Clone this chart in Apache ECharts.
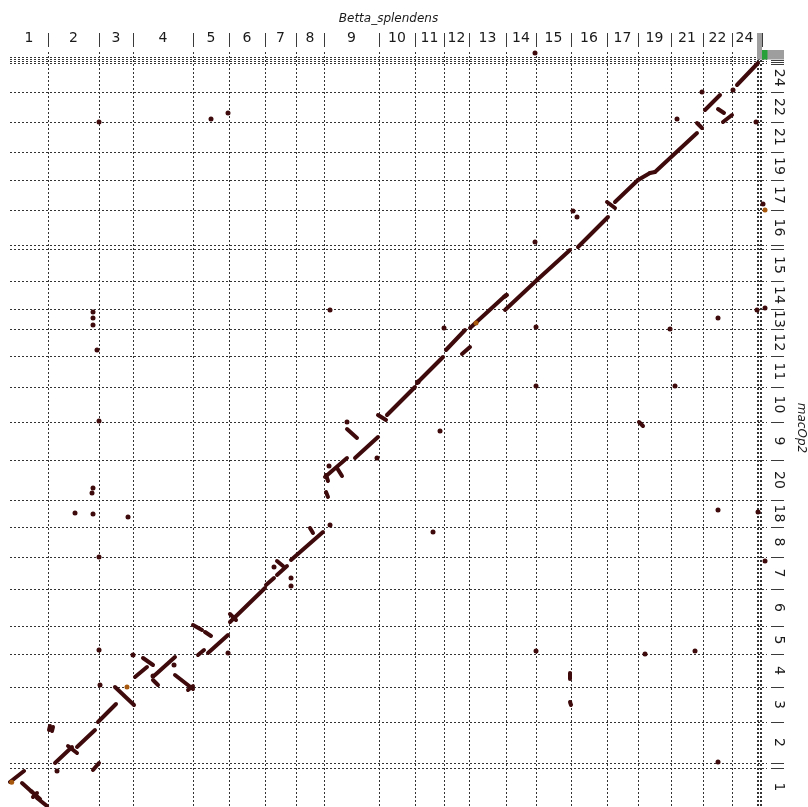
<!DOCTYPE html>
<html>
<head>
<meta charset="utf-8">
<script src="https://cdn.jsdelivr.net/npm/echarts@6/dist/echarts.min.js"></script>
<style>
  html, body { margin: 0; padding: 0; background: #ffffff; }
  #chart { width: 808px; height: 807px; }
</style>
</head>
<body>
<div id="chart"></div>
<script>
// Query assembly (Betta_splendens): chromosome order along x, sizes in Mb.
// Trailing unnamed entries are small unplaced contigs.
const xChromNames = ['1','2','3','4','5','6','7','8','9','10','11','12','13','14','15','16','17','19','21','22','24','','','',''];
const xChromSizes = [22.8,30.6,20.4,36,21.6,21.6,18.6,16.8,33,21.6,17.4,15,22.2,18,21,21.6,18.6,19.8,19.2,17.4,15,0.9,0.9,0.9,3.3];

// Target assembly (macOp2): chromosome order along y (bottom to top), sizes in Mb.
const yChromNames = ['1','','2','3','4','5','6','7','8','18','20','9','10','11','12','13','14','15','','16','17','19','21','22','24','','','',''];
const yChromSizes = [22.8,3,24.6,21,19.8,16.8,22.2,19.2,18,16.2,24,22.8,21,18.6,16.2,12,16.8,19.2,2.4,21,18,16.8,18,18,17.1,1.2,1.2,1.2,4.5];

// Alignment blocks on the concatenated genomes: [xStart, yStart, xEnd, yEnd] in Mb.
const alignments = [
  [0,14.4,8.4,21], [7.2,13.8,13.2,8.4], [12.6,9,18,4.2], [16.2,4.8,22.2,0], [13.8,5.4,16.2,7.8],
  [27,25.8,37.2,35.4], [34.8,36,40.2,31.8], [40.2,35.4,51,45.6], [23.4,45.6,24,48], [25.2,45,25.8,47.4],
  [49.8,21.6,53.4,25.8],
  [52.8,50.4,63.6,61.2], [63,71.4,74.4,60.6],
  [79.8,88.8,85.8,84.6], [75,77.4,82.2,83.4], [85.8,75.6,88.8,72.6], [87,78.6,99,89.4],
  [99,78.6,109.8,70.2], [106.8,69.6,109.8,72],
  [109.8,108.6,115.2,105.6], [117,104.4,120.6,102], [112.8,90.6,116.4,93.6], [118.8,91.8,130.8,102.6],
  [132,110.4,153,130.8], [132,115.2,135.6,111.6],
  [153.6,132.6,158.4,136.8], [160.2,147,163.8,144], [160.2,138.6,166.2,144],
  [168.6,147.6,187.8,164.4], [180,166.8,181.8,163.8],
  [189.6,188.4,190.8,185.4], [189.6,198.6,190.8,195], [189,197.4,202.2,208.8], [196.2,202.8,199.2,198],
  [207,208.8,220.8,221.4], [202.2,226.2,208.2,220.8],
  [220.8,234.6,225.6,231.6], [226.2,234.6,243,251.4], [244.2,253.8,259.8,269.4],
  [261.6,273.6,273,285.6], [271.2,271.2,276,275.4],
  [276,286.8,297.6,306.6], [296.4,305.4,298.2,306.6],
  [297,297.6,316.2,315.6], [316.2,315.6,336,333.6],
  [340.8,335.4,358.8,353.4],
  [358.2,362.4,363,358.8], [363,362.4,376.8,375.6],
  [376.8,375.6,384,379.8], [384,379.8,387,380.4], [387,380.4,412.2,403.8],
  [412.2,409.8,415.2,406.8],
  [417,417.6,426,426.6], [424.8,418.2,428.4,415.8], [427.8,410.4,433.2,414.6],
  [436.2,432.6,448.8,445.8],
  [377.4,230.4,379.8,228],
  [336,79.8,336,76.2], [336,62.4,336.6,60.6]
];

// Short isolated hits: [x, y] in Mb.
const hits = [
  [28.2,21], [53.4,93.6], [54,72.6], [73.8,90.6], [85.8,78], [98.4,84.6], [130.8,91.8],
  [158.4,143.4], [168.6,136.8], [168.6,132], [192,168.6], [253.8,164.4],
  [191.4,204], [220.2,208.8], [202.2,230.4], [244.8,254.4], [258,225], [260.4,286.8],
  [315,338.4], [315.6,287.4], [315.6,252], [315.6,93], [315,451.8],
  [337.8,357], [340.2,353.4], [400.2,412.2], [415.2,428.4], [433.8,429.6], [447.6,410.4],
  [53.4,410.4], [120.6,412.2], [130.8,415.8],
  [49.8,296.4], [49.8,292.8], [49.8,288.6], [52.2,273.6], [53.4,231],
  [49.8,190.8], [49.2,187.8], [39,175.8], [49.8,175.2], [70.8,173.4], [53.4,149.4],
  [192,297.6], [381,91.2], [396,286.2], [399,252], [411,93],
  [424.8,292.8], [424.8,177.6], [424.8,26.4],
  [448.2,297.6], [453,298.8], [448.8,176.4], [453,147], [451.8,361.2]
];

// Low-identity hits.
const weakHits = [[1,14.2], [70.2,71.4], [279.6,289.8], [453,357.6]];

function layout(names, sizes) {
  const bounds = [0];
  sizes.forEach(s => bounds.push(+(bounds[bounds.length - 1] + s).toFixed(3)));
  const total = bounds[bounds.length - 1];
  const centers = [];
  const labelOf = {};
  names.forEach((n, i) => {
    if (!n) return;
    const c = (bounds[i] + bounds[i + 1]) / 2;
    centers.push(c);
    labelOf[c.toFixed(3)] = n;
  });
  return { bounds, total, inner: bounds.slice(1, -1), centers, labelOf };
}

const X = layout(xChromNames, xChromSizes);
const Y = layout(yChromNames, yChromSizes);

const FONT = 'DejaVu Sans';
const INK = '#3f0a0b';
const GRID_TOP = 50;

const gridLines = [];
X.inner.forEach(b => gridLines.push({ coords: [[b, 0], [b, Y.total]] }));
Y.inner.forEach(b => gridLines.push({ coords: [[0, b], [X.total, b]] }));

const chart = echarts.init(document.getElementById('chart'), null, { renderer: 'canvas' });

chart.setOption({
  animation: false,
  backgroundColor: '#ffffff',
  grid: { left: 10, top: GRID_TOP, right: 41, bottom: 1, containLabel: false, outerBoundsMode: 'none' },
  xAxis: {
    type: 'value', position: 'top', min: 0, max: X.total,
    axisLine: { show: false }, axisTick: { show: false }, splitLine: { show: false },
    axisLabel: {
      customValues: X.centers,
      formatter: v => X.labelOf[v.toFixed(3)] || '',
      margin: 5, fontSize: 14, color: '#1a1a1a', fontFamily: FONT
    },
    name: 'Betta_splendens', nameLocation: 'middle', nameGap: 25,
    nameTextStyle: { fontStyle: 'italic', fontSize: 12, color: '#1a1a1a', fontFamily: FONT }
  },
  yAxis: {
    type: 'value', position: 'right', min: 0, max: Y.total,
    axisLine: { show: false }, axisTick: { show: false }, splitLine: { show: false },
    axisLabel: {
      customValues: Y.centers,
      formatter: v => Y.labelOf[v.toFixed(3)] || '',
      rotate: -90, margin: 5, fontSize: 14, color: '#1a1a1a', fontFamily: FONT
    },
    name: 'macOp2', nameLocation: 'middle', nameRotate: -90, nameGap: 28,
    nameTextStyle: { fontStyle: 'italic', fontSize: 12, color: '#1a1a1a', fontFamily: FONT }
  },
  series: [
    {
      name: 'boundaries', type: 'lines', coordinateSystem: 'cartesian2d',
      silent: true, z: 1,
      lineStyle: { color: '#333333', width: 1, type: [2, 2], opacity: 1 },
      data: gridLines
    },
    {
      name: 'alignments', type: 'lines', coordinateSystem: 'cartesian2d',
      silent: true, z: 3,
      lineStyle: { color: INK, width: 4, cap: 'round', opacity: 1 },
      data: alignments.map(a => ({ coords: [[a[0], a[1]], [a[2], a[3]]] }))
    },
    {
      name: 'hits', type: 'scatter', silent: true, z: 4,
      symbol: 'circle', symbolSize: 5, itemStyle: { color: INK, opacity: 1 },
      data: hits
    },
    {
      name: 'weak hits', type: 'scatter', silent: true, z: 4,
      symbol: 'circle', symbolSize: 5, itemStyle: { color: '#a8580c', opacity: 1 },
      data: weakHits
    }
  ]
});

// Chromosome separators beside the labels and the unplaced-contig blocks,
// placed from the axis scales.
const px = v => chart.convertToPixel({ xAxisIndex: 0 }, v);
const py = v => chart.convertToPixel({ yAxisIndex: 0 }, v);
const yTop = py(Y.total);
const xRight = px(X.total);
const separators = [];
X.inner.forEach(b => {
  const x = Math.round(px(b)) + 0.5;
  separators.push({ type: 'line', silent: true, z: 9,
    shape: { x1: x, y1: yTop - 17, x2: x, y2: yTop - 3 },
    style: { stroke: '#3a3a3a', lineWidth: 1 } });
});
Y.inner.forEach(b => {
  const y = Math.round(py(b)) + 0.5;
  separators.push({ type: 'line', silent: true, z: 9,
    shape: { x1: xRight + 4, y1: y, x2: xRight + 17, y2: y },
    style: { stroke: '#3a3a3a', lineWidth: 1 } });
});

const xUnplacedStart = px(X.bounds[21]);
const xUnplacedLast = px(X.bounds[24]);
const yBandBottom = py(Y.bounds[27]);

chart.setOption({
  graphic: separators.concat([
    { type: 'rect', silent: true, z: 10,
      shape: { x: xUnplacedStart, y: yTop - 17, width: xUnplacedLast - xUnplacedStart + 0.5, height: yBandBottom - yTop + 17 },
      style: { fill: '#9e9e9e' } },
    { type: 'rect', silent: true, z: 10,
      shape: { x: xUnplacedLast, y: yTop, width: xRight + 17 - xUnplacedLast, height: yBandBottom - yTop },
      style: { fill: '#9e9e9e' } },
    { type: 'rect', silent: true, z: 11,
      shape: { x: xUnplacedLast + 0.5, y: yTop, width: xRight - xUnplacedLast, height: yBandBottom - yTop },
      style: { fill: '#27a03a' } }
  ])
});
</script>
</body>
</html>
